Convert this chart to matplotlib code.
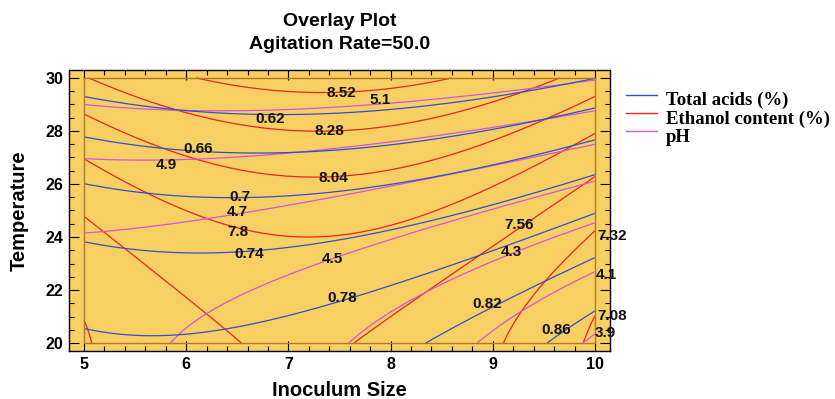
import numpy as np
import matplotlib
matplotlib.use("Agg")
import matplotlib.pyplot as plt
from matplotlib.patches import Rectangle
from matplotlib.lines import Line2D
from matplotlib.ticker import MultipleLocator

plt.rcParams["font.family"] = ["Liberation Sans", "DejaVu Sans"]
plt.rcParams["font.weight"] = "bold"

inoculum_range = [5.0, 10.0]
temperature_range = [20.0, 30.0]

acid_levels = [0.62, 0.66, 0.70, 0.74, 0.78, 0.82, 0.86]
ethanol_levels = [7.08, 7.32, 7.56, 7.80, 8.04, 8.28, 8.52]
ph_levels = [3.9, 4.1, 4.3, 4.5, 4.7, 4.9, 5.1]

# points: (inoculum size, temperature, level)
acid_pts = [
    (5.0, 29.30, 0.62), (5.84, 28.80, 0.62), (6.70, 28.68, 0.62), (7.41, 28.67, 0.62), (8.71, 29.06, 0.62), (10.0, 29.96, 0.62),
    (5.0, 27.76, 0.66), (6.0, 27.35, 0.66), (7.0, 27.17, 0.66), (7.41, 27.26, 0.66), (8.71, 27.85, 0.66), (10.0, 28.92, 0.66),
    (5.0, 25.96, 0.70), (6.0, 25.64, 0.70), (6.70, 25.48, 0.70), (7.60, 25.71, 0.70), (8.71, 26.50, 0.70), (10.0, 27.70, 0.70),
    (5.0, 23.78, 0.74), (5.84, 23.45, 0.74), (6.50, 23.36, 0.74), (7.41, 23.82, 0.74), (9.20, 25.40, 0.74), (10.0, 26.38, 0.74),
    (5.0, 20.58, 0.78), (5.74, 20.30, 0.78), (6.50, 20.57, 0.78), (7.41, 21.50, 0.78), (8.39, 22.69, 0.78), (9.36, 23.96, 0.78), (10.0, 24.87, 0.78),
    (8.35, 20.0, 0.82), (9.0, 21.5, 0.82), (9.53, 22.38, 0.82), (10.0, 23.22, 0.82),
    (9.54, 20.0, 0.86), (9.76, 20.6, 0.86), (10.0, 21.18, 0.86),
]
ethanol_pts = [
    (6.10, 30.0, 8.52), (6.82, 29.61, 8.52), (7.41, 29.46, 8.52), (7.60, 29.48, 8.52), (8.06, 29.67, 8.52), (8.58, 30.0, 8.52),
    (5.0, 30.0, 8.28), (5.84, 28.79, 8.28), (6.82, 28.16, 8.28), (7.41, 28.0, 8.28), (8.39, 28.40, 8.28), (9.04, 29.06, 8.28), (9.63, 30.0, 8.28),
    (5.0, 28.63, 8.04), (5.84, 27.38, 8.04), (6.66, 26.65, 8.04), (7.41, 26.30, 8.04), (8.71, 27.03, 8.04), (9.36, 28.04, 8.04), (10.0, 29.36, 8.04),
    (5.0, 26.94, 7.80), (5.74, 25.40, 7.80), (6.33, 24.50, 7.80), (7.15, 24.0, 7.80), (8.06, 24.45, 7.80), (8.65, 25.40, 7.80), (10.0, 27.94, 7.80),
    (5.0, 24.80, 7.56), (5.40, 23.50, 7.56), (6.20, 21.06, 7.56), (6.49, 20.10, 7.56), (7.68, 20.0, 7.56), (8.48, 22.26, 7.56),
    (9.26, 24.34, 7.56), (9.66, 25.40, 7.56), (10.0, 26.34, 7.56),
    (5.0, 20.87, 7.32), (5.075, 20.11, 7.32), (9.10, 20.0, 7.32), (9.53, 22.26, 7.32), (10.0, 24.26, 7.32),
    (9.88, 20.0, 7.08), (10.0, 21.2, 7.08),
]
ph_pts = [
    (5.0, 28.94, 5.1), (6.16, 28.73, 5.1), (7.41, 28.88, 5.1), (7.60, 28.92, 5.1), (9.36, 29.67, 5.1), (10.0, 29.86, 5.1),
    (5.0, 26.94, 4.9), (6.16, 27.18, 4.9), (7.41, 27.32, 4.9), (9.36, 28.42, 4.9), (10.0, 28.73, 4.9),
    (5.0, 24.19, 4.7), (5.84, 24.45, 4.7), (6.82, 25.10, 4.7), (7.60, 25.40, 4.7), (9.36, 27.03, 4.7), (10.0, 27.50, 4.7),
    (5.90, 20.0, 4.5), (6.20, 21.06, 4.5), (6.69, 22.26, 4.5), (7.41, 23.26, 4.5), (8.39, 24.15, 4.5), (9.30, 25.40, 4.5), (10.0, 26.09, 4.5),
    (7.60, 20.0, 4.3), (7.90, 21.06, 4.3), (8.39, 22.07, 4.3), (9.18, 23.32, 4.3), (10.0, 24.58, 4.3),
    (8.84, 20.0, 4.1), (9.36, 21.25, 4.1), (10.0, 22.73, 4.1),
    (9.92, 20.1, 3.9), (10.0, 20.43, 3.9),
]

# contour label text and where it sits
labels = [
    ("8.52", 7.515, 29.43), ("5.1", 7.90, 29.17), ("0.62", 6.82, 28.45), ("8.28", 7.40, 28.0),
    ("0.66", 6.115, 27.32), ("4.9", 5.81, 26.72), ("8.04", 7.44, 26.23), ("0.7", 6.53, 25.51),
    ("4.7", 6.50, 24.94), ("7.8", 6.51, 24.19), ("0.74", 6.62, 23.36), ("4.5", 7.43, 23.17),
    ("0.78", 7.53, 21.70), ("7.56", 9.26, 24.45), ("4.3", 9.18, 23.43), ("0.82", 8.95, 21.47),
    ("0.86", 9.62, 20.49), ("7.32", 10.17, 24.04), ("4.1", 10.11, 22.57), ("7.08", 10.17, 21.02),
    ("3.9", 10.10, 20.38),
]

series_names = ["Total acids (%)", "Ethanol content (%)", "pH"]
blue, red, magenta = "#2f50c8", "#e8251f", "#d456d8"
yellow = "#f8cf62"


def fit_surface(pts):
    p = np.array(pts)
    x = p[:, 0] - 7.5
    y = p[:, 1] - 25.0
    A = np.column_stack([np.ones_like(x), x, y, x * x, y * y, x * y])
    coef, *_ = np.linalg.lstsq(A, p[:, 2], rcond=None)
    return coef


def surface(coef, X, Y):
    x = X - 7.5
    y = Y - 25.0
    return coef[0] + coef[1] * x + coef[2] * y + coef[3] * x * x + coef[4] * y * y + coef[5] * x * y


xs = np.linspace(inoculum_range[0], inoculum_range[1], 301)
ys = np.linspace(temperature_range[0], temperature_range[1], 301)
X, Y = np.meshgrid(xs, ys)

fig = plt.figure(figsize=(8.35, 3.99), dpi=100)
ax = fig.add_axes([69 / 835, 48 / 399, 541 / 835, 281 / 399])
ax.set_facecolor(yellow)

ax.contour(X, Y, surface(fit_surface(ethanol_pts), X, Y), levels=ethanol_levels, colors=red, linewidths=0.9)
ax.contour(X, Y, surface(fit_surface(ph_pts), X, Y), levels=ph_levels, colors=magenta, linewidths=0.9)
ax.contour(X, Y, surface(fit_surface(acid_pts), X, Y), levels=acid_levels, colors=blue, linewidths=0.9)

ax.add_patch(Rectangle((inoculum_range[0], temperature_range[0]),
                       inoculum_range[1] - inoculum_range[0],
                       temperature_range[1] - temperature_range[0],
                       fill=False, edgecolor="#b5772c", lw=1.0, zorder=3))

for txt, lx, ly in labels:
    ax.text(lx, ly, txt, ha="center", va="center", fontsize=11, fontweight="bold", color="#111111", zorder=4)

ax.set_xlim(inoculum_range[0] - 0.147, inoculum_range[1] + 0.147)
ax.set_ylim(temperature_range[0] - 0.30, temperature_range[1] + 0.30)
ax.xaxis.set_major_locator(MultipleLocator(1))
ax.xaxis.set_minor_locator(MultipleLocator(0.2))
ax.yaxis.set_major_locator(MultipleLocator(2))
ax.yaxis.set_minor_locator(MultipleLocator(0.5))
ax.tick_params(which="both", direction="in", top=True, right=True, width=0.8)
ax.tick_params(which="major", length=7, labelsize=11.5, pad=4)
ax.tick_params(which="minor", length=3.5)
for s in ax.spines.values():
    s.set_linewidth(1.0)

ax.set_xlabel("Inoculum Size", fontsize=14.5, fontweight="bold", labelpad=6.5)
ax.set_ylabel("Temperature", fontsize=14.5, fontweight="bold", labelpad=12)
ax.set_title("Overlay Plot\nAgitation Rate=50.0", fontsize=14, fontweight="bold", pad=15, linespacing=1.5)

# legend drawn by hand to get the tight row spacing
for i, (name, col) in enumerate(zip(series_names, [blue, red, magenta])):
    yl = 1 - (95 + 18 * i) / 399
    fig.add_artist(Line2D([626 / 835, 657 / 835], [yl, yl], color=col, lw=1.0))
    fig.text(666 / 835, 1 - (105 + 18.5 * i) / 399, name, ha="left", va="baseline",
             fontsize=13.5, fontweight="bold", family=["Liberation Serif", "DejaVu Serif"])

fig.savefig("out.png", dpi=100)
